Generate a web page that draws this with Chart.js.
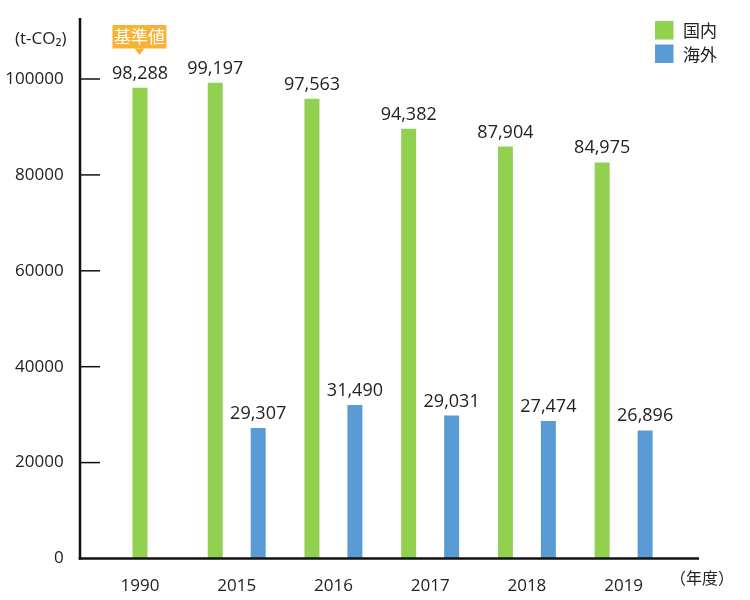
<!DOCTYPE html>
<html>
<head>
<meta charset="utf-8">
<script src="https://cdn.jsdelivr.net/npm/chart.js@4.4.1/dist/chart.umd.min.js"></script>
<style>
  html, body { margin: 0; padding: 0; background: #ffffff; }
  #wrap { width: 750px; height: 600px; }
</style>
</head>
<body>
<div id="wrap"><canvas id="c" width="750" height="600"></canvas></div>
<script>
// ---- data ----
const years = ['1990', '2015', '2016', '2017', '2018', '2019'];
// bar heights as drawn in the picture (t-CO2)
const domesticValues = [98200, 99200, 95900, 89600, 85900, 82600];
const overseasValues = [null, 27200, 32000, 29800, 28700, 26700];
// value labels printed above the bars
const domesticLabels = ['98,288', '99,197', '97,563', '94,382', '87,904', '84,975'];
const overseasLabels = [null, '29,307', '31,490', '29,031', '27,474', '26,896'];
const seriesNames = ['国内', '海外'];
const yTicks = [0, 20000, 40000, 60000, 80000, 100000];
const unitLabel = '(t-CO₂)';
const xUnitLabel = '（年度）';
const baseLabel = '基準値';

const FONT = '"Open Sans", "Noto Sans CJK JP", sans-serif';
const CJK = '"Noto Sans CJK JP", "Open Sans", sans-serif';
const TXT = '#222222';
const GREEN = '#92d050';
const BLUE = '#5b9bd5';
const ORANGE = '#f8b337';

const decor = {
  id: 'decor',
  afterDatasetsDraw(chart) {
    const ctx = chart.ctx;
    const ys = chart.scales.y;
    ctx.save();
    // value labels
    ctx.fillStyle = TXT;
    ctx.font = '18px ' + FONT;
    ctx.textAlign = 'center';
    ctx.textBaseline = 'alphabetic';
    const labelSets = [domesticLabels, overseasLabels];
    chart.data.datasets.forEach((ds, di) => {
      const meta = chart.getDatasetMeta(di);
      meta.data.forEach((el, i) => {
        const t = labelSets[di][i];
        if (t == null || ds.data[i] == null) return;
        ctx.fillText(t, el.x, el.y - 9);
      });
    });
    // callout above 1990 bar
    const first = chart.getDatasetMeta(0).data[0];
    const cx = first.x - 0.5;
    ctx.fillStyle = ORANGE;
    ctx.fillRect(cx - 27, 25, 54, 23.5);
    ctx.beginPath();
    ctx.moveTo(cx - 5, 48.5);
    ctx.lineTo(cx + 5, 48.5);
    ctx.lineTo(cx, 55);
    ctx.closePath();
    ctx.fill();
    ctx.fillStyle = '#ffffff';
    ctx.font = '17px ' + CJK;
    ctx.textBaseline = 'middle';
    ctx.fillText(baseLabel, cx, 37);

    // tick marks (inward)
    ctx.strokeStyle = '#111111';
    ctx.lineWidth = 1.5;
    ys.ticks.forEach(t => {
      if (t.value === 0) return;
      const py = ys.getPixelForValue(t.value);
      ctx.beginPath();
      ctx.moveTo(80, py);
      ctx.lineTo(100, py);
      ctx.stroke();
    });
    // axes
    ctx.lineWidth = 2.5;
    const y0 = ys.getPixelForValue(0);
    ctx.beginPath();
    ctx.moveTo(80, 18);
    ctx.lineTo(80, y0 + 1.25);
    ctx.stroke();
    ctx.beginPath();
    ctx.moveTo(78.75, y0);
    ctx.lineTo(699, y0);
    ctx.stroke();

    // unit labels
    ctx.fillStyle = TXT;
    ctx.textAlign = 'left';
    ctx.textBaseline = 'middle';
    ctx.font = '17px ' + FONT;
    ctx.fillText(unitLabel, 15, 39);
    ctx.font = '16px ' + CJK;
    ctx.fillText(xUnitLabel, 670, 578);

    // legend
    chart.data.datasets.forEach((ds, di) => {
      const top = 21 + di * 23.5;
      ctx.fillStyle = ds.backgroundColor;
      ctx.fillRect(655, top, 18.5, 18.5);
      ctx.fillStyle = TXT;
      ctx.font = '17px ' + CJK;
      ctx.fillText(ds.label, 683, top + 10);
    });
    ctx.restore();
  }
};

new Chart(document.getElementById('c'), {
  type: 'bar',
  data: {
    labels: years,
    datasets: [
      { label: seriesNames[0], data: domesticValues, backgroundColor: GREEN },
      { label: seriesNames[1], data: overseasValues, backgroundColor: BLUE }
    ]
  },
  options: {
    responsive: false,
    animation: false,
    devicePixelRatio: 1,
    skipNull: true,
    categoryPercentage: 0.888,
    barPercentage: 0.5,
    maxBarThickness: 15,
    layout: { padding: { top: 79, right: 78, bottom: 0, left: 0 } },
    plugins: {
      legend: { display: false },
      tooltip: { enabled: false }
    },
    scales: {
      x: {
        grid: { display: false },
        border: { display: false },
        ticks: {
          color: TXT,
          font: { family: FONT, size: 17 },
          padding: 9,
          maxRotation: 0,
          autoSkip: false
        },
        afterFit(scale) { scale.height = 41.5; }
      },
      y: {
        min: 0,
        max: 100000,
        afterBuildTicks(scale) { scale.ticks = yTicks.map(v => ({ value: v })); },
        grid: { display: false },
        border: { display: false },
        ticks: {
          color: TXT,
          font: { family: FONT, size: 17 },
          padding: 20,
          callback: (v) => String(v)
        },
        afterFit(scale) { scale.width = 91.6; }
      }
    }
  },
  plugins: [decor]
});
</script>
</body>
</html>
